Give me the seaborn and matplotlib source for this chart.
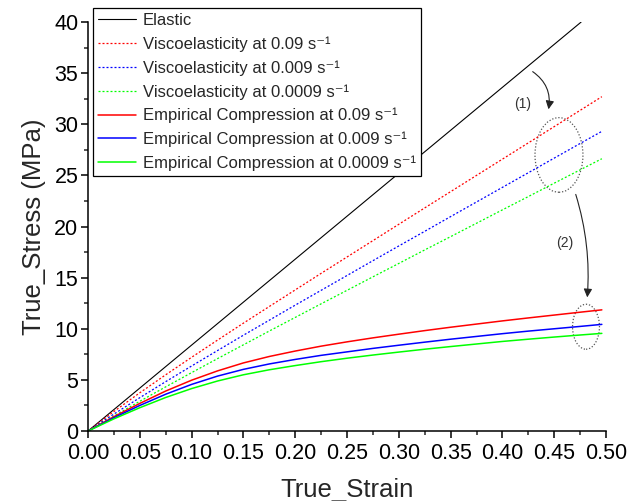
import numpy as np
import pandas as pd
import matplotlib
matplotlib.use("Agg")
import matplotlib.pyplot as plt
import seaborn as sns
from matplotlib.patches import Ellipse, FancyArrowPatch
from matplotlib.ticker import MultipleLocator, FormatStrFormatter

sns.set_style("ticks")
plt.rcParams['font.family'] = ['Liberation Sans', 'DejaVu Sans']

# ---- data ----
elastic_strain = [0.0, 0.476]
elastic_stress = [0.0, 40.0]

strain = [0.0, 0.025, 0.05, 0.075, 0.1, 0.125, 0.15, 0.175, 0.2, 0.225, 0.25,
          0.275, 0.3, 0.325, 0.35, 0.375, 0.4, 0.425, 0.45, 0.475, 0.496]

visco_009 = [0.0, 1.91, 3.74, 5.50, 7.21, 8.89, 10.55, 12.18, 13.80, 15.42, 17.02,
             18.62, 20.22, 21.82, 23.41, 25.00, 26.59, 28.18, 29.77, 31.36, 32.70]
visco_0009 = [0.0, 1.66, 3.26, 4.83, 6.36, 7.87, 9.37, 10.84, 12.31, 13.76, 15.21,
              16.66, 18.10, 19.53, 20.97, 22.40, 23.83, 25.26, 26.69, 28.12, 29.31]
visco_00009 = [0.0, 1.47, 2.91, 4.32, 5.71, 7.08, 8.43, 9.78, 11.11, 12.44, 13.76,
               15.08, 16.39, 17.71, 19.01, 20.32, 21.63, 22.93, 24.24, 25.54, 26.63]

emp_009 = [0.0, 1.40, 2.70, 3.91, 4.97, 5.88, 6.66, 7.29, 7.82, 8.30, 8.72,
           9.11, 9.47, 9.82, 10.15, 10.46, 10.77, 11.06, 11.34, 11.62, 11.85]
emp_0009 = [0.0, 1.30, 2.50, 3.60, 4.56, 5.37, 6.03, 6.56, 7.00, 7.40, 7.74,
            8.08, 8.39, 8.69, 8.98, 9.25, 9.52, 9.77, 10.00, 10.23, 10.43]
emp_00009 = [0.0, 1.19, 2.28, 3.28, 4.15, 4.89, 5.50, 5.99, 6.40, 6.78, 7.12,
             7.43, 7.72, 8.00, 8.26, 8.51, 8.76, 8.98, 9.19, 9.39, 9.55]

labels = [
    "Elastic",
    "Viscoelasticity at 0.09 s\u207b\u00b9",
    "Viscoelasticity at 0.009 s\u207b\u00b9",
    "Viscoelasticity at 0.0009 s\u207b\u00b9",
    "Empirical Compression at 0.09 s\u207b\u00b9",
    "Empirical Compression at 0.009 s\u207b\u00b9",
    "Empirical Compression at 0.0009 s\u207b\u00b9",
]

fig = plt.figure(figsize=(6.27, 5.01), dpi=100)
ax = fig.add_axes([0.1404, 0.1397, 0.8261, 0.8163])

dot = (0, (1.6, 1.6))
sns.lineplot(x=elastic_strain, y=elastic_stress, ax=ax, color="black", lw=0.8, label=labels[0])
series = [
    (visco_009, "#ff0000", dot, labels[1], 0.9),
    (visco_0009, "#0000ff", dot, labels[2], 0.9),
    (visco_00009, "#00ff00", dot, labels[3], 0.9),
    (emp_009, "#ff0000", "-", labels[4], 1.1),
    (emp_0009, "#0000ff", "-", labels[5], 1.1),
    (emp_00009, "#00ff00", "-", labels[6], 1.1),
]
for ys, c, ls, lab, lw in series:
    sns.lineplot(x=strain, y=ys, ax=ax, color=c, lw=lw, linestyle=ls, label=lab, sort=False)

ax.set_xlim(0, 0.5)
ax.set_ylim(0, 40)
ax.xaxis.set_major_locator(MultipleLocator(0.05))
ax.xaxis.set_minor_locator(MultipleLocator(0.025))
ax.yaxis.set_major_locator(MultipleLocator(5))
ax.yaxis.set_minor_locator(MultipleLocator(2.5))
ax.xaxis.set_major_formatter(FormatStrFormatter("%.2f"))
ax.tick_params(which="major", direction="out", length=5, width=1.1, labelsize=15.5, colors="black", pad=2)
ax.tick_params(axis="x", which="major", pad=3.5)
ax.tick_params(which="minor", direction="out", length=3, width=1.1)
for s in ["top", "right"]:
    ax.spines[s].set_visible(False)
for s in ["left", "bottom"]:
    ax.spines[s].set_linewidth(1.1)
    ax.spines[s].set_color("black")

ax.set_xlabel("True_Strain", fontsize=18.5, labelpad=10)
ax.set_ylabel("True_Stress (MPa)", fontsize=18.5, labelpad=6)

leg = ax.legend(loc="upper left", bbox_to_anchor=(0.148, 0.984), bbox_transform=fig.transFigure,
                fontsize=12, frameon=True, fancybox=False, edgecolor="black", framealpha=1,
                handlelength=2.3, handletextpad=0.4, labelspacing=0.5, borderpad=0.3,
                borderaxespad=0)
leg.get_frame().set_linewidth(0.9)

# annotations
ax.add_patch(Ellipse((0.4546, 27.0), 0.0463, 7.3, fill=False, ls=(0, (1, 1.5)), lw=0.9, ec="#555555"))
ax.add_patch(Ellipse((0.4807, 10.2), 0.026, 4.4, fill=False, ls=(0, (1, 1.5)), lw=0.9, ec="#555555"))
ax.add_patch(FancyArrowPatch((0.427, 35.3), (0.444, 31.2), connectionstyle="arc3,rad=-0.35",
                             arrowstyle="-|>,head_length=5,head_width=2.5", color="#222222", lw=0.8))
ax.add_patch(FancyArrowPatch((0.470, 23.4), (0.4817, 12.8), connectionstyle="arc3,rad=-0.1",
                             arrowstyle="-|>,head_length=5,head_width=2.5", color="#222222", lw=0.8))
ax.text(0.42, 32.0, "(1)", fontsize=10, color="#333333", ha="center", va="center")
ax.text(0.46, 18.4, "(2)", fontsize=10, color="#333333", ha="center", va="center")

fig.savefig("out.png", dpi=100)
